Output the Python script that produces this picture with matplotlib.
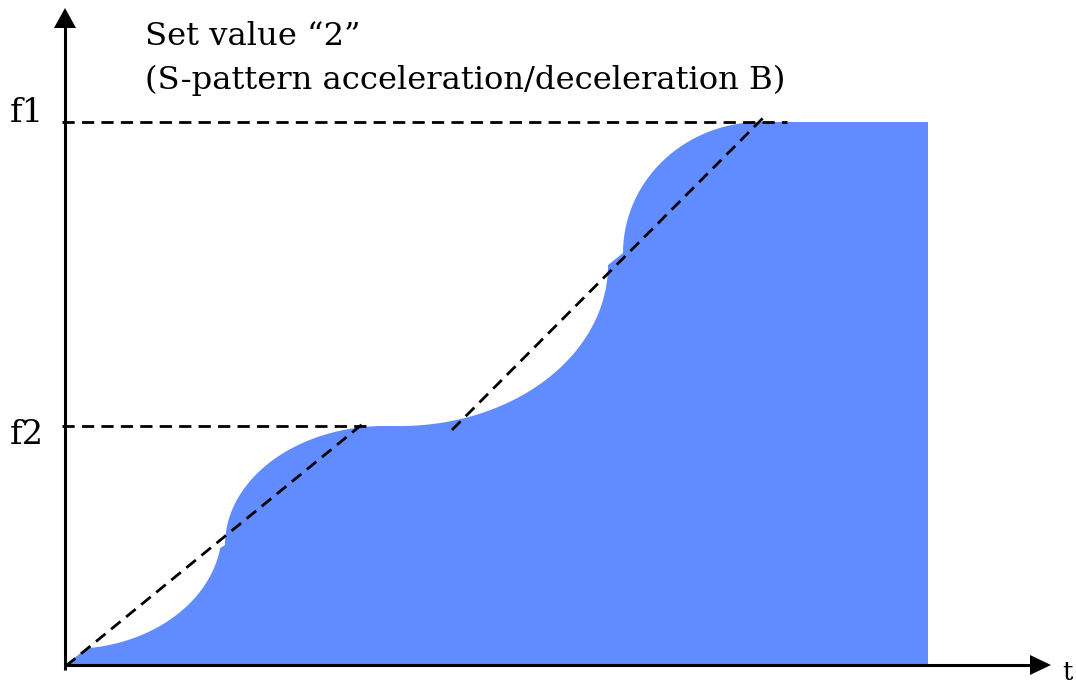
import numpy as np
import matplotlib
matplotlib.use("Agg")
import matplotlib.pyplot as plt

# ---------------- data (t: time units, f: % of f1) ----------------
f1 = 100.0
f2 = 44.0
t_end = 100.0

# S-pattern arcs: centre, radii, start/end angle (deg)
arc_ct = [0.58, 37.08, 38.82, 80.65]
arc_cf = [24.86, 22.10, 73.66, 75.87]
arc_rt = [17.61, 18.54, 24.10, 15.99]
arc_rf = [21.92, 21.92, 29.65, 24.13]
arc_a0 = [-83.6, 180.0, -90.0, 180.0]
arc_a1 = [-8.7, 90.0, 0.0, 90.0]

# reference (dashed) lines
f1_line_t = [-0.3, 83.7]
f2_line_t = [-0.3, 35.7]
ramp1_t = [0.1, 34.76]
ramp1_f = [-0.2, 44.75]
ramp2_t = [44.84, 81.11]
ramp2_f = [43.28, 101.1]

title_lines = ["Set value \u201c2\u201d", "(S-pattern acceleration/deceleration B)"]
y_labels = ["f1", "f2"]
x_label = "t"

# ---------------- figure ----------------
W, H = 1076, 684
fig = plt.figure(figsize=(W / 100, H / 100), dpi=100)
ax = fig.add_axes([0, 0, 1, 1])
SX, SY = 8.63, 5.43      # pixels per data unit
OX, OY = 65, 665         # pixel position of origin
ax.set_xlim(-OX / SX, (W - OX) / SX)
ax.set_ylim((OY - H) / SY, OY / SY)
ax.axis("off")

BLUE = "#608cff"

# filled S-curve
pts_t = [0.0]
pts_f = [0.0]
for ct, cf, rt, rf, a0, a1 in zip(arc_ct, arc_cf, arc_rt, arc_rf, arc_a0, arc_a1):
    a = np.radians(np.linspace(a0, a1, 80))
    pts_t.extend(ct + rt * np.cos(a))
    pts_f.extend(cf + rf * np.sin(a))
pts_t += [t_end, t_end]
pts_f += [f1, 0.0]
ax.fill(pts_t, pts_f, color=BLUE, lw=0, zorder=1)

# dashed lines
dash_kw = dict(color="black", lw=2.0, zorder=3, linestyle=(0, (4.4, 2.6)))
ax.plot(f1_line_t, [f1, f1], **dash_kw)
ax.plot(f2_line_t, [f2, f2], **dash_kw)
ax.plot(ramp1_t, ramp1_f, **dash_kw)
ax.plot(ramp2_t, ramp2_f, **dash_kw)

# axes with arrows
ax.plot([0, 0], [-5 / SY, (OY - 26) / SY], color="black", lw=2.2, zorder=4,
        solid_capstyle="butt")
ax.plot([0, (1032 - OX) / SX], [0, 0], color="black", lw=2.2, zorder=4,
        solid_capstyle="butt")
# arrowheads
ax.fill([-11 / SX, 11 / SX, 0], [(OY - 28) / SY, (OY - 28) / SY, (OY - 8) / SY],
        color="black", lw=0, zorder=5)
ax.fill([(1030 - OX) / SX, (1030 - OX) / SX, (1051 - OX) / SX],
        [10 / SY, -10 / SY, 0], color="black", lw=0, zorder=5)

# ---------------- text ----------------
FONT = "DejaVu Serif"
t1 = fig.text(145 / W, 1 - 45 / H, title_lines[0], family=FONT, fontsize=22,
              ha="left", va="baseline")
t2 = fig.text(145 / W, 1 - 89 / H, title_lines[1], family=FONT, fontsize=22,
              ha="left", va="baseline")
fig.canvas.draw()
w = t2.get_window_extent().width
fs = 22 * 640 / w
t1.set_fontsize(fs)
t2.set_fontsize(fs)

fig.text(44 / W, 1 - 122 / H, y_labels[0], family=FONT, fontsize=fs * 1.05,
         ha="right", va="baseline")
fig.text(44 / W, 1 - 444 / H, y_labels[1], family=FONT, fontsize=fs * 1.05,
         ha="right", va="baseline")
fig.text(1062 / W, 1 - 680 / H, x_label, family=FONT, fontsize=fs * 0.8,
         ha="left", va="baseline")

fig.savefig("out.png", dpi=100)
